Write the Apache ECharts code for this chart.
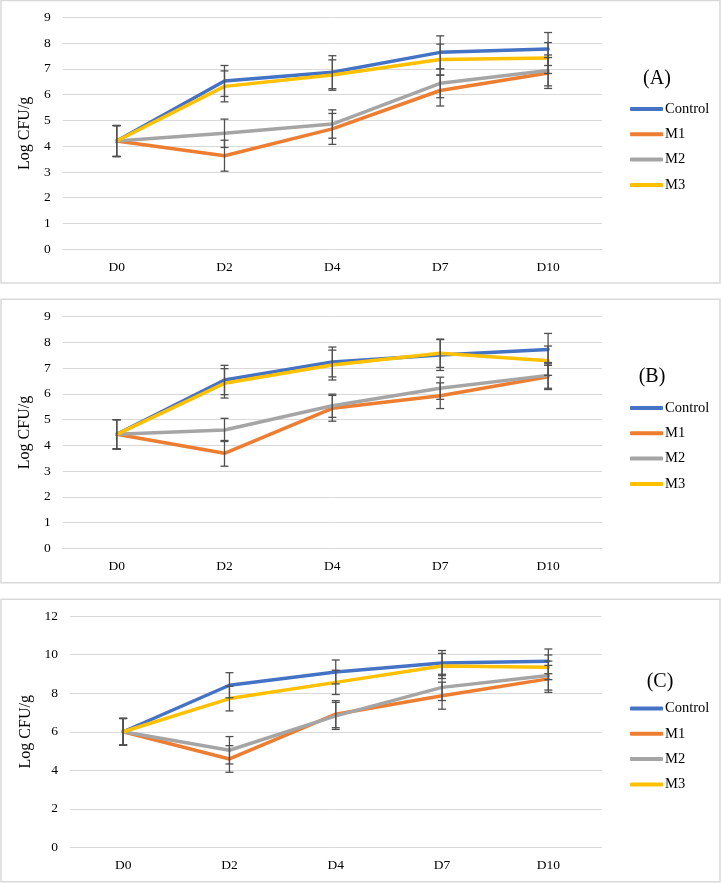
<!DOCTYPE html>
<html>
<head>
<meta charset="utf-8">
<script src="https://cdn.jsdelivr.net/npm/echarts@6/dist/echarts.min.js"></script>
<style>
html,body{margin:0;padding:0;background:#fff;}
#chart{width:721px;height:883px;}
</style>
</head>
<body>
<div id="chart"></div>
<script>
const categories = ['D0', 'D2', 'D4', 'D7', 'D10'];
const seriesNames = ['Control', 'M1', 'M2', 'M3'];
const panelLabels = ['(A)', '(B)', '(C)'];

// Panel A
const A_control = [4.20, 6.53, 6.87, 7.64, 7.77];
const A_m1 = [4.20, 3.63, 4.67, 6.16, 6.84];
const A_m2 = [4.20, 4.50, 4.86, 6.44, 6.94];
const A_m3 = [4.20, 6.32, 6.76, 7.36, 7.42];
const A_err_control = [0.60, 0.60, 0.64, 0.64, 0.64];
const A_err_m1 = [0.60, 0.60, 0.60, 0.60, 0.60];
const A_err_m2 = [0.60, 0.55, 0.55, 0.56, 0.60];
const A_err_m3 = [0.60, 0.60, 0.59, 0.60, 0.60];

// Panel B
const B_control = [4.43, 6.54, 7.24, 7.51, 7.73];
const B_m1 = [4.43, 3.69, 5.44, 5.93, 6.67];
const B_m2 = [4.43, 4.60, 5.54, 6.22, 6.72];
const B_m3 = [4.43, 6.41, 7.12, 7.58, 7.29];
const B_err_control = [0.57, 0.57, 0.58, 0.60, 0.62];
const B_err_m1 = [0.57, 0.50, 0.50, 0.50, 0.50];
const B_err_m2 = [0.57, 0.45, 0.45, 0.43, 0.50];
const B_err_m3 = [0.57, 0.57, 0.58, 0.55, 0.57];

// Panel C
const C_control = [6.00, 8.41, 9.10, 9.56, 9.65];
const C_m1 = [6.00, 4.59, 6.91, 7.87, 8.74];
const C_m2 = [6.00, 5.04, 6.82, 8.30, 8.91];
const C_m3 = [6.00, 7.72, 8.56, 9.41, 9.34];
const C_err_control = [0.69, 0.65, 0.62, 0.65, 0.64];
const C_err_m1 = [0.69, 0.69, 0.70, 0.70, 0.70];
const C_err_m2 = [0.69, 0.71, 0.70, 0.68, 0.75];
const C_err_m3 = [0.69, 0.64, 0.63, 0.65, 0.64];

const yMax = [9, 9, 12];
const yInterval = [1, 1, 2];

const colors = ['#4472C4', '#ED7D31', '#A5A5A5', '#FFC000'];
const FONT = '"Liberation Serif", "Times New Roman", serif';

const panelValues = [
  [A_control, A_m1, A_m2, A_m3],
  [B_control, B_m1, B_m2, B_m3],
  [C_control, C_m1, C_m2, C_m3]
];
const panelErrors = [
  [A_err_control, A_err_m1, A_err_m2, A_err_m3],
  [B_err_control, B_err_m1, B_err_m2, B_err_m3],
  [C_err_control, C_err_m1, C_err_m2, C_err_m3]
];

// layout
const boxes = [
  {x: 1, y: 0.5, w: 719, h: 282.5},
  {x: 1, y: 299.3, w: 719, h: 283.4},
  {x: 1, y: 599.3, w: 719, h: 282.4}
];
const grids = [
  {left: 62.7, right: 119, top: 17.3, height: 232},
  {left: 62.7, right: 119, top: 316.7, height: 231.6},
  {left: 70, right: 119.5, top: 616, height: 231.5}
];
const labelPos = [[657, 79], [652, 377], [660, 682]];
const legendTop = [96, 395, 695.5];
const nameGaps = [15, 15, 22];

const chart = echarts.init(document.getElementById('chart'), null, {renderer: 'canvas'});

const option = {
  animation: false,
  backgroundColor: '#fff',
  color: colors,
  grid: [],
  xAxis: [],
  yAxis: [],
  legend: [],
  series: [],
  graphic: []
};

for (let p = 0; p < 3; p++) {
  option.graphic.push({
    type: 'rect', silent: true, z: -10,
    shape: {x: boxes[p].x, y: boxes[p].y, width: boxes[p].w, height: boxes[p].h},
    style: {fill: '#fff', stroke: '#D9D9D9', lineWidth: 1.5}
  });
  option.graphic.push({
    type: 'text', silent: true,
    x: labelPos[p][0], y: labelPos[p][1],
    style: {text: panelLabels[p], font: '20px ' + FONT, fill: '#000', textAlign: 'center', textVerticalAlign: 'middle'}
  });
  option.grid.push(Object.assign({containLabel: false}, grids[p]));
  option.xAxis.push({
    type: 'category', gridIndex: p, data: categories, boundaryGap: true,
    axisLine: {show: true, lineStyle: {color: '#D9D9D9', width: 1}},
    axisTick: {show: false},
    axisLabel: {color: '#000', fontFamily: FONT, fontSize: 13.5, margin: 11},
    splitLine: {show: false}
  });
  option.yAxis.push({
    type: 'value', gridIndex: p, min: 0, max: yMax[p], interval: yInterval[p],
    name: 'Log CFU/g', nameLocation: 'middle', nameGap: nameGaps[p], nameRotate: 90,
    nameTextStyle: {color: '#000', fontFamily: FONT, fontSize: 16},
    axisLine: {show: false}, axisTick: {show: false},
    axisLabel: {color: '#000', fontFamily: FONT, fontSize: 13.5, margin: 12},
    splitLine: {show: true, lineStyle: {color: '#D9D9D9', width: 1}}
  });
  option.legend.push({
    orient: 'vertical', left: 625, top: legendTop[p],
    data: seriesNames, icon: 'roundRect', itemWidth: 33, itemHeight: 4, itemGap: 9.3,
    selectedMode: false,
    textStyle: {color: '#000', fontFamily: FONT, fontSize: 14.5, lineHeight: 16, padding: [0, 0, 0, -3]}
  });
  for (let s = 0; s < 4; s++) {
    option.series.push({
      type: 'line', name: seriesNames[s], xAxisIndex: p, yAxisIndex: p,
      data: panelValues[p][s], showSymbol: false, symbol: 'none',
      lineStyle: {width: 3.5, color: colors[s], cap: 'round', join: 'round'},
      itemStyle: {color: colors[s]}, z: 2 + s * 0.01
    });
  }
  for (let s = 0; s < 4; s++) {
    const data = categories.map((c, i) => [i, panelValues[p][s][i], panelErrors[p][s][i]]);
    option.series.push({
      type: 'custom', name: 'err' + p + '_' + s, xAxisIndex: p, yAxisIndex: p,
      data: data, z: 5, silent: true,
      renderItem: function (params, api) {
        const x = api.value(0), v = api.value(1), e = api.value(2);
        const hi = api.coord([x, v + e]);
        const lo = api.coord([x, v - e]);
        const hw = 4;
        const st = {stroke: '#505050', lineWidth: 1.3};
        return {
          type: 'group',
          children: [
            {type: 'line', shape: {x1: hi[0], y1: hi[1], x2: lo[0], y2: lo[1]}, style: st},
            {type: 'line', shape: {x1: hi[0] - hw, y1: hi[1], x2: hi[0] + hw, y2: hi[1]}, style: st},
            {type: 'line', shape: {x1: lo[0] - hw, y1: lo[1], x2: lo[0] + hw, y2: lo[1]}, style: st}
          ]
        };
      }
    });
  }
}

chart.setOption(option);
</script>
</body>
</html>
